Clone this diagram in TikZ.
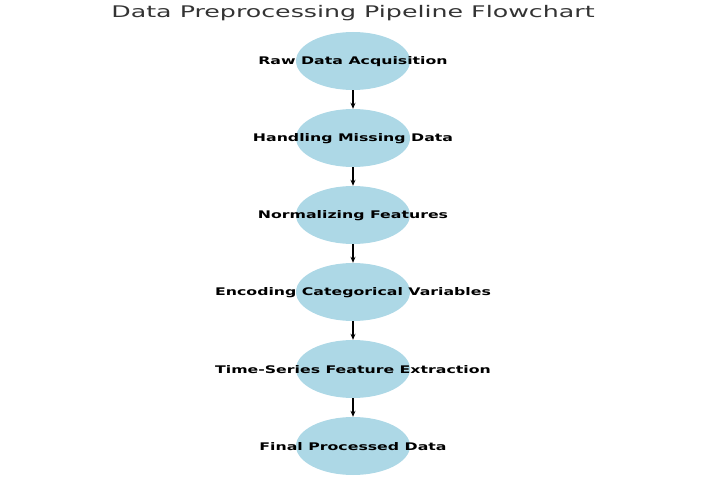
\documentclass[tikz,border=0pt]{standalone}
\usepackage{fontspec}
\setmainfont{DejaVu Sans}
\usepackage{graphicx}
\usetikzlibrary{arrows.meta,shapes.geometric}
\definecolor{stepblue}{RGB}{173,216,230}
\tikzset{
  stepnode/.style={ellipse, fill=stepblue, minimum width=114pt, minimum height=58pt, inner sep=0pt},
  steplabel/.style={yshift=-1pt},
  steparrow/.style={-{Stealth[length=6pt,width=5pt]}, line width=1.2pt}
}
\newcommand{\steptext}[1]{\scalebox{1.5}[1]{\bfseries\fontsize{10.5}{11}\selectfont #1}}
\begin{document}
\begin{tikzpicture}[x=1pt,y=-1pt]
\useasboundingbox (0,0) rectangle (706,494);

\node at (353,13) {\scalebox{1.58}[1]{\fontsize{16}{17}\selectfont\color{black!80}Data Preprocessing Pipeline Flowchart}};

\node[stepnode] (raw) at (353,61) {};
\node[steplabel] at (raw) {\steptext{Raw Data Acquisition}};

\node[stepnode] (missing) at (353,138) {};
\node[steplabel] at (missing) {\steptext{Handling Missing Data}};

\node[stepnode] (norm) at (353,215) {};
\node[steplabel] at (norm) {\steptext{Normalizing Features}};

\node[stepnode] (enc) at (353,292) {};
\node[steplabel] at (enc) {\steptext{Encoding Categorical Variables}};

\node[stepnode] (ts) at (353,369) {};
\node[steplabel] at (ts) {\steptext{Time-Series Feature Extraction}};

\node[stepnode] (final) at (353,446) {};
\node[steplabel] at (final) {\steptext{Final Processed Data}};

\draw[steparrow] (raw) -- (missing);
\draw[steparrow] (missing) -- (norm);
\draw[steparrow] (norm) -- (enc);
\draw[steparrow] (enc) -- (ts);
\draw[steparrow] (ts) -- (final);
\end{tikzpicture}
\end{document}
